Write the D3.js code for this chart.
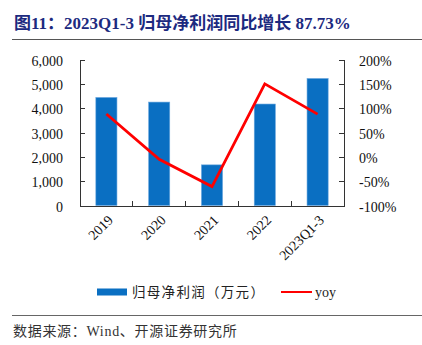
<!DOCTYPE html>
<html lang="zh">
<head>
  <meta charset="UTF-8">
  <title>归母净利润同比增长</title>
  <style>
    body {
      margin: 0;
      padding: 0;
      background-color: white;
      font-family: "Liberation Serif", "Noto Sans CJK SC", serif;
    }
    .axis text {
      font-family: "Liberation Serif", serif;
      font-size: 14px;
      fill: #111;
    }
    .axis path, .axis line {
      stroke: #333;
      shape-rendering: crispEdges;
    }
  </style>
</head>
<body>
  <div id="chart"></div>

  <script src="https://d3js.org/d3.v7.min.js"></script>
  <script>
    // data
    var years = ["2019", "2020", "2021", "2022", "2023Q1-3"];
    var profit = [4440, 4250, 1670, 4170, 5220];     // 归母净利润（万元）
    var yoy = [88, -5, -61, 150, 87.73];              // 同比 %
    var leftTicks = [0, 1000, 2000, 3000, 4000, 5000, 6000];
    var rightTicks = [-100, -50, 0, 50, 100, 150, 200];

    var W = 422, H = 345;
    var plot = {left: 80, right: 344, top: 59.5, bottom: 205.5};

    var svg = d3.select("#chart").append("svg")
      .attr("width", W)
      .attr("height", H);

    // title
    svg.append("text")
      .attr("x", 14)
      .attr("y", 29)
      .style("font-family", "'Liberation Serif', 'Noto Sans CJK SC', serif")
      .style("font-size", "17px")
      .style("font-weight", "bold")
      .style("fill", "#1c2a80")
      .text("图11：2023Q1-3 归母净利润同比增长 87.73%");

    svg.append("line")
      .attr("x1", 12).attr("x2", W)
      .attr("y1", 39.5).attr("y2", 39.5)
      .attr("stroke", "#555").attr("stroke-width", 1);

    var x = d3.scaleBand()
      .domain(years)
      .range([plot.left, plot.right])
      .paddingInner(0).paddingOuter(0);

    var yL = d3.scaleLinear().domain([0, 6000]).range([plot.bottom, plot.top]);
    var yR = d3.scaleLinear().domain([-100, 200]).range([plot.bottom, plot.top]);

    var barW = x.bandwidth() * 0.4;

    // bars
    svg.selectAll(".bar")
      .data(profit)
      .enter().append("rect")
      .attr("class", "bar")
      .attr("x", function(d, i) { return x(years[i]) + (x.bandwidth() - barW) / 2; })
      .attr("y", function(d) { return yL(d); })
      .attr("width", barW)
      .attr("height", function(d) { return plot.bottom - yL(d); })
      .attr("fill", "#0a6fc2")
      .attr("stroke", "#6aa6de")
      .attr("stroke-width", 0.6);

    // axes
    svg.append("g")
      .attr("class", "axis")
      .attr("transform", "translate(" + plot.left + ",0)")
      .call(d3.axisRight(yL).tickValues(leftTicks).tickSize(5).tickFormat(d3.format(",")))
      .call(function(g) {
        g.selectAll("text").attr("x", -17).attr("text-anchor", "end").attr("dy", "0.4em");
      });

    svg.append("g")
      .attr("class", "axis")
      .attr("transform", "translate(" + plot.right + ",0)")
      .call(d3.axisLeft(yR).tickValues(rightTicks).tickSize(5).tickFormat(function(d) { return d + "%"; }))
      .call(function(g) {
        g.selectAll("text").attr("x", 15).attr("text-anchor", "start").attr("dy", "0.4em");
      });

    var xAxis = svg.append("g")
      .attr("class", "axis")
      .attr("transform", "translate(0," + plot.bottom + ")")
      .call(d3.axisTop(x).tickSize(0).tickFormat(""));

    // boundary ticks between categories
    xAxis.selectAll(".sep")
      .data(years.slice(1))
      .enter().append("line")
      .attr("x1", function(d) { return x(d); })
      .attr("x2", function(d) { return x(d); })
      .attr("y1", 0).attr("y2", -5)
      .attr("stroke", "#333")
      .attr("shape-rendering", "crispEdges");

    svg.selectAll(".xlabel")
      .data(years)
      .enter().append("text")
      .attr("class", "xlabel")
      .attr("transform", function(d) {
        return "translate(" + (x(d) + x.bandwidth() / 2 + 4) + "," + (plot.bottom + 12) + ") rotate(-45)";
      })
      .attr("text-anchor", "end")
      .attr("dy", "0.35em")
      .style("font-family", "'Liberation Serif', serif")
      .style("font-size", "14px")
      .style("fill", "#111")
      .text(function(d) { return d; });

    // yoy line
    var line = d3.line()
      .x(function(d, i) { return x(years[i]) + x.bandwidth() / 2; })
      .y(function(d) { return yR(d); });

    svg.append("path")
      .datum(yoy)
      .attr("d", line)
      .attr("fill", "none")
      .attr("stroke", "#ff0000")
      .attr("stroke-width", 2.8);

    // legend
    var lg = svg.append("g").attr("transform", "translate(0,292)");
    lg.append("rect")
      .attr("x", 97).attr("y", -3.5)
      .attr("width", 30).attr("height", 7)
      .attr("fill", "#0a6fc2");
    lg.append("text")
      .attr("x", 132).attr("y", 0).attr("dy", "0.35em")
      .style("font-family", "'Noto Sans CJK SC', sans-serif")
      .style("font-size", "13.5px")
      .style("letter-spacing", "1.3px")
      .style("fill", "#222")
      .text("归母净利润（万元）");
    lg.append("line")
      .attr("x1", 281).attr("x2", 312)
      .attr("y1", 0).attr("y2", 0)
      .attr("stroke", "#ff0000").attr("stroke-width", 2);
    lg.append("text")
      .attr("x", 315).attr("y", 0).attr("dy", "0.35em")
      .style("font-family", "'Liberation Serif', serif")
      .style("font-size", "14px")
      .style("fill", "#222")
      .text("yoy");

    // source note
    svg.append("line")
      .attr("x1", 12).attr("x2", W)
      .attr("y1", 315.5).attr("y2", 315.5)
      .attr("stroke", "#666").attr("stroke-width", 1);

    svg.append("text")
      .attr("x", 13).attr("y", 331).attr("dy", "0.35em")
      .style("font-family", "'Liberation Serif', 'Noto Sans CJK SC', serif")
      .style("font-size", "14px")
      .style("letter-spacing", "0.7px")
      .style("fill", "#333")
      .text("数据来源：Wind、开源证券研究所");
  </script>
</body>
</html>
